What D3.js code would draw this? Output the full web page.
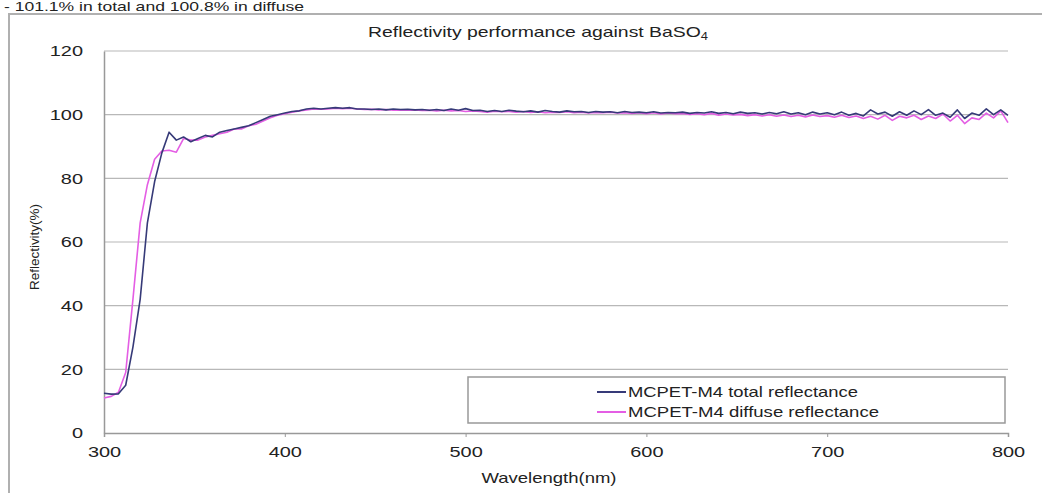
<!DOCTYPE html>
<html><head><meta charset="utf-8">
<script src="https://cdn.jsdelivr.net/npm/d3@7"></script>
<style>body{margin:0;background:#fff;}svg{display:block;font-family:"Liberation Sans",Arial,sans-serif;}</style>
</head><body><svg id="c" width="1042" height="493"></svg>
<script>
const wavelengths = d3.range(300, 801, 4);
const totalRefl = [12.5,12.2,12.3,15.0,27,42,66,79,88,94.5,92,93,91.5,92.5,93.5,93,94.5,95,95.5,96,96.5,97.5,98.5,99.5,100,
100.5,101,101.2,101.8,102,101.8,102,102.2,102,102.2,101.8,101.8,101.6,101.8,101.5,101.8,101.6,101.7,101.5,101.6,101.4,101.6,101.3,101.8,101.4,
101.9,101.3,101.4,101.0,101.3,101.0,101.4,101.1,100.9,101.2,100.8,101.3,101.0,100.8,101.2,100.9,101.0,100.7,101.0,100.8,100.9,100.6,101.0,100.7,100.8,
100.6,100.9,100.5,100.7,100.6,100.8,100.4,100.7,100.5,100.9,100.4,100.7,100.3,100.8,100.4,100.6,100.2,100.7,100.3,100.9,100.2,100.6,100.0,100.8,100.2,
100.6,100.0,100.8,99.8,100.4,99.6,101.5,100.2,100.8,99.5,100.9,99.8,101.2,100.0,101.6,99.8,100.5,99.2,101.5,98.8,100.5,99.8,101.8,100.0,101.5,99.8];
const diffuseRefl = [11.0,11.5,12.8,19,42,66,78,86,88.6,88.8,88.2,92.5,92,92,93,93.5,94,94.5,95.5,95.5,96.5,97,98,99,99.8,
100.3,100.8,101.2,101.5,101.8,101.7,101.8,102,101.9,102,101.8,101.6,101.7,101.5,101.6,101.4,101.5,101.4,101.5,101.3,101.4,101.2,101.4,101.2,101.3,
101.0,101.2,101.0,100.8,101.1,100.9,101.0,100.8,101.0,100.7,100.9,100.6,100.8,100.7,100.9,100.6,100.8,100.5,100.7,100.6,100.8,100.5,100.6,100.4,100.6,
100.3,100.6,100.2,100.5,100.3,100.4,100.1,100.3,100.0,100.4,99.8,100.2,99.9,100.1,99.7,100.0,99.6,100.0,99.5,99.9,99.4,99.8,99.3,99.9,99.4,
99.7,99.2,99.8,99.1,99.6,98.8,99.5,98.6,99.8,98.2,99.5,99.0,99.8,98.5,99.6,98.8,100.2,98.0,99.8,97.2,99.0,98.5,100.5,99.0,101.2,97.5];
const xTicks = [300,400,500,600,700,800];
const yTicks = [0,20,40,60,80,100,120];
const seriesNames = ["MCPET-M4 total reflectance","MCPET-M4 diffuse reflectance"];
const seriesColors = ["#363a78","#e45ee4"];
const titleText = "Reflectivity performance against BaSO";
const topText = "- 101.1% in total and 100.8% in diffuse";

const svg = d3.select("#c");
const x = d3.scaleLinear().domain([300,800]).range([104,1008]);
const y = d3.scaleLinear().domain([0,120]).range([433,51]);
const SX = 1.33; // horizontal stretch of the reference's lettering

// top text (cut off in the reference, kept visible here)
svg.append("text").attr("x",4).attr("y",11).attr("font-size",13).attr("fill","#222")
  .attr("textLength",300).attr("lengthAdjust","spacingAndGlyphs").text(topText);
// outer frame
svg.append("path").attr("d","M9,493V14H1042").attr("fill","none").attr("stroke","#b0b0b0").attr("stroke-width",2);

// gridlines
svg.append("g").selectAll("line").data(yTicks.filter(d=>d>0)).join("line")
  .attr("x1",x(300)).attr("x2",x(800)).attr("y1",d=>y(d)).attr("y2",d=>y(d))
  .attr("stroke","#b8b8b8").attr("stroke-width",1.2);

// axes
const xa = svg.append("g").attr("transform",`translate(0,${y(0)})`)
  .call(d3.axisBottom(x).tickValues(xTicks).tickSize(4).tickPadding(9).tickFormat(d3.format("d")));
xa.select(".domain").attr("stroke","#999").attr("stroke-width",1.5);
xa.selectAll(".tick line").attr("stroke","#999");
xa.selectAll("text").attr("font-size",15).attr("fill","#222").attr("font-family","Liberation Sans, Arial")
  .attr("transform",`scale(${SX},1)`);
const ya = svg.append("g").attr("transform",`translate(${x(300)},0)`)
  .call(d3.axisLeft(y).tickValues(yTicks).tickSize(0).tickPadding(10));
ya.select(".domain").attr("stroke","#999").attr("stroke-width",1.5);
ya.selectAll("text").attr("font-size",15).attr("fill","#222").attr("font-family","Liberation Sans, Arial")
  .attr("x",-21/SX).attr("transform",`scale(${SX},1)`);

// lines
const line = d3.line().x((d,i)=>x(wavelengths[i])).y(d=>y(d)).curve(d3.curveLinear);
[diffuseRefl,totalRefl].forEach((arr,k)=>{
  svg.append("path").datum(arr).attr("d",line).attr("fill","none")
    .attr("stroke", k===0?seriesColors[1]:seriesColors[0]).attr("stroke-width",1.6).attr("stroke-linejoin","round");
});

// title
const t = svg.append("text").attr("x",538).attr("y",37).attr("text-anchor","middle").attr("font-size",15).attr("fill","#222")
  .attr("textLength",340).attr("lengthAdjust","spacingAndGlyphs").text(titleText);
t.append("tspan").attr("font-size",10).attr("dy",3).text("4");

// axis titles
svg.append("text").attr("x",549).attr("y",483).attr("text-anchor","middle").attr("font-size",15).attr("fill","#222")
  .attr("textLength",135).attr("lengthAdjust","spacingAndGlyphs").text("Wavelength(nm)");
svg.append("text").attr("transform","translate(39,247) rotate(-90)").attr("text-anchor","middle").attr("font-size",12.5).attr("fill","#222")
  .attr("textLength",86).attr("lengthAdjust","spacingAndGlyphs").text("Reflectivity(%)");

// legend
const lg = svg.append("g");
lg.append("rect").attr("x",468).attr("y",377).attr("width",537).attr("height",46).attr("fill","#fff").attr("stroke","#999").attr("stroke-width",1.5);
const legendW = [230, 251];
seriesNames.forEach((n,i)=>{
  const yy = 392 + i*20;
  lg.append("line").attr("x1",597).attr("x2",626).attr("y1",yy).attr("y2",yy).attr("stroke",seriesColors[i]).attr("stroke-width",2);
  lg.append("text").attr("x",628).attr("y",yy+5).attr("font-size",15).attr("fill","#222")
    .attr("textLength",legendW[i]).attr("lengthAdjust","spacingAndGlyphs").text(n);
});
</script></body></html>
